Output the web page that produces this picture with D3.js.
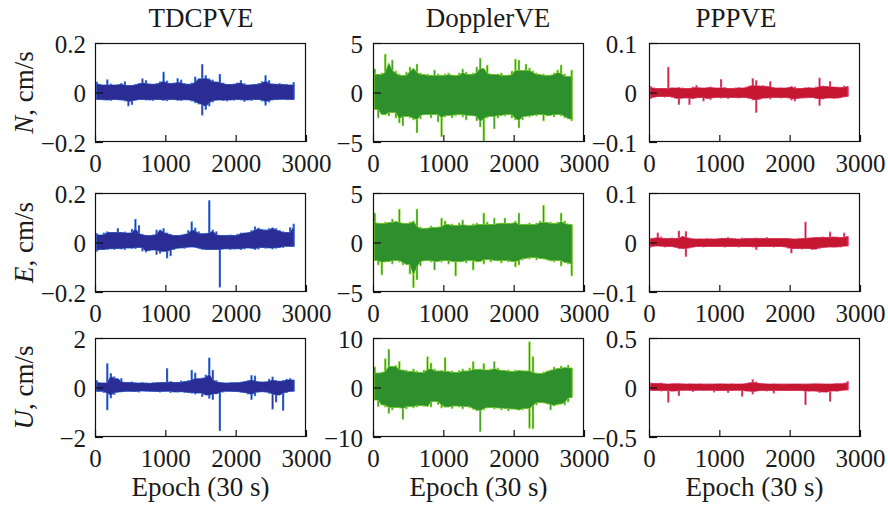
<!DOCTYPE html>
<html>
<head>
<meta charset="utf-8">
<script src="https://cdn.jsdelivr.net/npm/d3@7"></script>
<style>
  html, body { margin: 0; padding: 0; background: #fff; }
  svg { display: block; }
</style>
</head>
<body>
<svg id="chart" width="888" height="505"></svg>
<script>
// ---------------- DATA ----------------
const colTitles = ["TDCPVE", "DopplerVE", "PPPVE"];
const rowLabels = ["N", "E", "U"];
const xTicks = [0, 1000, 2000, 3000];
const xLabel = "Epoch (30 s)";
// symmetric y limits per row, per column
const nLimits = [0.2, 5, 0.1];
const eLimits = [0.2, 5, 0.1];
const uLimits = [2, 10, 0.5];
// y tick labels (bottom, middle, top) per row, per column
const nTickLabels = [["−0.2", "0", "0.2"], ["−5", "0", "5"], ["−0.1", "0", "0.1"]];
const eTickLabels = [["−0.2", "0", "0.2"], ["−5", "0", "5"], ["−0.1", "0", "0.1"]];
const uTickLabels = [["−2", "0", "2"], ["−10", "0", "10"], ["−0.5", "0", "0.5"]];

// start epoch of each 50-epoch bin
const binEpochs = [0,50,100,150,200,250,300,350,400,450,500,550,600,650,700,750,800,850,900,950,
  1000,1050,1100,1150,1200,1250,1300,1350,1400,1450,1500,1550,1600,1650,1700,1750,1800,1850,1900,1950,
  2000,2050,2100,2150,2200,2250,2300,2350,2400,2450,2500,2550,2600,2650,2700,2750,2800];
const binWidth = 50;

// per-bin max / min of each velocity-error series (cm/s)
const nTdcpHi = [0.044,0.035,0.030,0.053,0.036,0.030,0.033,0.038,0.045,0.028,0.030,0.034,0.038,0.057,0.050,0.036,0.033,0.038,0.045,0.084,0.048,0.036,0.040,0.058,0.052,0.038,0.033,0.040,0.064,0.055,0.115,0.070,0.057,0.052,0.042,0.075,0.040,0.034,0.032,0.036,0.040,0.050,0.038,0.030,0.034,0.032,0.038,0.045,0.070,0.050,0.036,0.033,0.038,0.032,0.035,0.030,0.042];
const nTdcpLo = [-0.030,-0.028,-0.032,-0.030,-0.034,-0.028,-0.031,-0.030,-0.036,-0.056,-0.050,-0.033,-0.030,-0.028,-0.032,-0.030,-0.034,-0.028,-0.030,-0.033,-0.035,-0.028,-0.030,-0.032,-0.034,-0.029,-0.031,-0.036,-0.043,-0.048,-0.093,-0.070,-0.056,-0.040,-0.032,-0.030,-0.034,-0.036,-0.030,-0.033,-0.028,-0.032,-0.038,-0.030,-0.034,-0.028,-0.030,-0.036,-0.053,-0.040,-0.032,-0.028,-0.030,-0.027,-0.031,-0.030,-0.028];
const nDopHi = [2.4,1.8,2.0,3.9,2.9,3.3,2.2,1.9,1.7,2.1,2.6,2.4,2.9,2.0,1.8,1.9,1.7,2.3,1.9,1.7,1.9,2.0,1.8,1.7,2.0,2.4,2.1,1.8,2.0,2.6,3.5,2.4,2.8,1.9,1.8,1.9,2.0,1.7,1.8,2.2,3.4,3.3,2.2,2.9,2.5,2.2,2.0,1.8,1.9,1.7,1.8,2.0,2.3,2.8,1.9,1.6,2.3];
const nDopLo = [-1.7,-2.6,-2.2,-2.3,-2.4,-2.0,-2.6,-3.1,-3.4,-2.4,-2.6,-2.8,-4.1,-2.7,-2.3,-2.2,-2.6,-2.2,-3.0,-4.5,-2.5,-2.3,-2.6,-2.4,-2.2,-2.5,-2.8,-2.3,-2.4,-2.9,-3.5,-4.9,-2.6,-2.4,-3.7,-2.6,-2.3,-2.4,-2.2,-2.6,-2.8,-3.6,-2.8,-2.4,-2.5,-2.3,-2.4,-2.2,-2.9,-2.4,-2.3,-2.5,-2.2,-2.4,-2.6,-2.7,-2.9];
const nPppHi = [0.013,0.010,0.008,0.009,0.008,0.052,0.010,0.009,0.011,0.010,0.008,0.009,0.012,0.015,0.010,0.009,0.011,0.012,0.010,0.009,0.027,0.011,0.009,0.008,0.010,0.011,0.009,0.012,0.014,0.029,0.025,0.013,0.015,0.012,0.023,0.011,0.009,0.010,0.009,0.011,0.013,0.012,0.008,0.009,0.010,0.011,0.009,0.012,0.030,0.014,0.012,0.023,0.011,0.012,0.010,0.014,0.012];
const nPppLo = [-0.013,-0.010,-0.009,-0.008,-0.010,-0.008,-0.011,-0.012,-0.025,-0.012,-0.011,-0.025,-0.013,-0.012,-0.010,-0.018,-0.012,-0.015,-0.011,-0.010,-0.012,-0.010,-0.013,-0.011,-0.010,-0.012,-0.010,-0.011,-0.013,-0.016,-0.041,-0.015,-0.012,-0.011,-0.014,-0.010,-0.011,-0.012,-0.010,-0.012,-0.016,-0.018,-0.013,-0.011,-0.012,-0.010,-0.011,-0.013,-0.027,-0.014,-0.012,-0.011,-0.013,-0.012,-0.011,-0.010,-0.008];

const eTdcpHi = [0.038,0.030,0.040,0.045,0.042,0.040,0.058,0.040,0.044,0.038,0.055,0.095,0.070,0.035,0.030,0.028,0.032,0.052,0.050,0.058,0.040,0.035,0.030,0.028,0.032,0.035,0.050,0.085,0.060,0.045,0.035,0.038,0.171,0.052,0.045,0.030,0.028,0.030,0.032,0.028,0.035,0.040,0.038,0.042,0.050,0.065,0.060,0.055,0.050,0.058,0.060,0.058,0.050,0.045,0.040,0.062,0.076];
const eTdcpLo = [-0.037,-0.030,-0.028,-0.030,-0.025,-0.030,-0.024,-0.028,-0.030,-0.022,-0.025,-0.026,-0.020,-0.036,-0.040,-0.035,-0.030,-0.050,-0.045,-0.035,-0.064,-0.055,-0.030,-0.025,-0.022,-0.025,-0.020,-0.018,-0.022,-0.025,-0.030,-0.028,-0.030,-0.028,-0.030,-0.182,-0.028,-0.025,-0.030,-0.028,-0.025,-0.030,-0.028,-0.022,-0.025,-0.030,-0.028,-0.020,-0.025,-0.022,-0.028,-0.025,-0.020,-0.022,-0.015,-0.018,-0.016];
const eDopHi = [3.0,2.0,1.9,2.1,2.0,2.4,2.1,3.4,2.0,1.9,2.1,2.2,3.4,1.6,1.4,1.5,1.7,1.5,1.6,2.5,2.2,1.8,1.9,1.7,2.0,2.3,1.8,1.7,1.9,2.0,1.8,3.0,2.1,1.8,2.5,1.9,2.0,2.5,1.9,2.0,2.2,3.0,1.8,1.9,2.0,1.8,2.0,2.2,3.8,2.0,2.1,1.9,2.1,3.0,2.2,1.9,1.8];
const eDopLo = [-1.8,-2.3,-3.3,-2.0,-1.9,-2.2,-1.8,-2.0,-2.3,-2.2,-3.2,-4.6,-3.8,-2.4,-1.9,-1.8,-2.0,-2.8,-1.9,-2.0,-1.8,-2.2,-1.9,-3.4,-2.0,-1.9,-2.1,-1.8,-2.8,-2.0,-1.9,-2.2,-1.7,-2.0,-1.8,-1.9,-2.1,-1.8,-2.0,-1.9,-2.5,-2.3,-1.8,-1.6,-1.7,-1.5,-1.8,-1.6,-1.7,-1.8,-1.9,-2.0,-1.8,-2.4,-2.0,-2.2,-3.4];
const ePppHi = [0.008,0.010,0.020,0.012,0.008,0.009,0.010,0.008,0.024,0.012,0.023,0.010,0.008,0.007,0.008,0.007,0.009,0.008,0.007,0.008,0.009,0.008,0.011,0.008,0.009,0.007,0.010,0.008,0.009,0.008,0.010,0.008,0.009,0.011,0.008,0.009,0.008,0.009,0.008,0.009,0.008,0.007,0.009,0.008,0.042,0.009,0.011,0.010,0.011,0.012,0.010,0.022,0.011,0.012,0.010,0.020,0.012];
const ePppLo = [-0.010,-0.008,-0.007,-0.009,-0.010,-0.008,-0.009,-0.011,-0.013,-0.012,-0.029,-0.012,-0.010,-0.009,-0.008,-0.010,-0.008,-0.009,-0.008,-0.009,-0.008,-0.010,-0.008,-0.009,-0.008,-0.010,-0.008,-0.009,-0.008,-0.010,-0.015,-0.009,-0.008,-0.009,-0.008,-0.010,-0.009,-0.008,-0.010,-0.012,-0.022,-0.012,-0.013,-0.014,-0.012,-0.013,-0.015,-0.014,-0.013,-0.010,-0.011,-0.009,-0.010,-0.009,-0.010,-0.008,-0.007];

const uTdcpHi = [0.30,0.20,0.18,0.98,0.58,0.45,0.35,0.38,0.22,0.20,0.24,0.20,0.18,0.22,0.20,0.17,0.21,0.19,0.22,0.20,0.78,0.25,0.22,0.20,0.28,0.24,0.30,0.71,0.60,0.35,0.40,0.52,1.21,0.71,0.30,0.22,0.20,0.18,0.22,0.19,0.20,0.23,0.25,0.30,0.50,0.48,0.25,0.22,0.24,0.35,0.44,0.30,0.25,0.30,0.35,0.38,0.30];
const uTdcpLo = [-0.17,-0.15,-0.22,-0.92,-0.44,-0.30,-0.20,-0.18,-0.17,-0.15,-0.18,-0.16,-0.20,-0.14,-0.17,-0.15,-0.18,-0.16,-0.20,-0.17,-0.15,-0.22,-0.18,-0.20,-0.17,-0.22,-0.20,-0.25,-0.28,-0.22,-0.38,-0.30,-0.45,-0.50,-0.25,-1.76,-0.20,-0.15,-0.17,-0.16,-0.18,-0.20,-0.22,-0.28,-0.50,-0.35,-0.20,-0.17,-0.20,-0.25,-0.89,-0.60,-0.30,-0.94,-0.22,-0.18,-0.15];
const uDopHi = [4.2,2.9,3.2,5.9,7.8,4.2,4.5,5.3,3.5,3.6,3.2,3.8,3.4,3.0,3.6,6.3,5.0,3.8,3.3,3.5,6.1,3.2,3.4,3.0,3.5,3.8,3.3,4.0,5.3,3.6,3.8,4.9,3.5,3.8,5.3,4.0,3.5,3.4,3.6,3.2,3.6,3.4,3.5,3.3,9.3,6.3,3.0,2.8,3.2,3.4,3.6,4.2,3.8,4.4,4.0,4.6,3.9];
const uDopLo = [-2.5,-3.9,-3.5,-4.0,-5.3,-4.6,-4.0,-4.2,-6.5,-4.4,-3.8,-4.2,-4.0,-3.6,-3.9,-3.8,-4.0,-2.8,-3.5,-4.2,-4.0,-3.9,-4.3,-3.7,-4.0,-4.4,-3.8,-4.2,-4.5,-4.8,-9.0,-4.6,-4.2,-4.0,-4.4,-4.1,-4.6,-4.2,-4.8,-4.3,-4.5,-4.6,-4.6,-4.2,-8.3,-8.4,-3.6,-3.0,-3.2,-3.4,-4.6,-3.8,-3.6,-3.3,-3.6,-3.0,-2.0];
const uPppHi = [0.050,0.040,0.045,0.050,0.040,0.035,0.045,0.040,0.038,0.042,0.035,0.040,0.038,0.035,0.040,0.036,0.034,0.038,0.035,0.040,0.036,0.038,0.035,0.040,0.036,0.035,0.038,0.045,0.050,0.083,0.060,0.045,0.040,0.038,0.035,0.040,0.036,0.035,0.034,0.036,0.035,0.038,0.036,0.035,0.034,0.036,0.038,0.040,0.036,0.038,0.035,0.036,0.040,0.042,0.038,0.050,0.065];
const uPppLo = [-0.030,-0.035,-0.030,-0.040,-0.030,-0.154,-0.040,-0.035,-0.086,-0.030,-0.028,-0.030,-0.045,-0.030,-0.028,-0.032,-0.030,-0.028,-0.050,-0.030,-0.032,-0.030,-0.055,-0.032,-0.030,-0.028,-0.093,-0.035,-0.040,-0.070,-0.040,-0.035,-0.030,-0.040,-0.030,-0.060,-0.030,-0.032,-0.030,-0.035,-0.030,-0.032,-0.030,-0.035,-0.178,-0.040,-0.035,-0.040,-0.055,-0.045,-0.050,-0.144,-0.035,-0.040,-0.035,-0.030,-0.025];

// ---------------- LAYOUT / STYLE ----------------
const colLeft = [95, 373, 649];
const rowTop = [43, 193, 338];
const plotW = 211, plotH = 99;
const yLabelGap = [9, 10, 12];
const titleX = [201, 488, 736];
const serif = "'Liberation Serif', 'Times New Roman', serif";
const palette = [
  { light: "#3f78d8", dark: "#2b2c94" },
  { light: "#7fd12e", dark: "#2d902d" },
  { light: "#e45a8a", dark: "#c5172f" }
];

const grid = [
  { label: rowLabels[0], limits: nLimits, ticks: nTickLabels, series: [[nTdcpHi, nTdcpLo], [nDopHi, nDopLo], [nPppHi, nPppLo]] },
  { label: rowLabels[1], limits: eLimits, ticks: eTickLabels, series: [[eTdcpHi, eTdcpLo], [eDopHi, eDopLo], [ePppHi, ePppLo]] },
  { label: rowLabels[2], limits: uLimits, ticks: uTickLabels, series: [[uTdcpHi, uTdcpLo], [uDopHi, uDopLo], [uPppHi, uPppLo]] }
];

const svg = d3.select("#chart");
svg.append("rect").attr("width", 888).attr("height", 505).attr("fill", "#fff");

grid.forEach((row, r) => {
  row.series.forEach((pair, c) => {
    const [hi, lo] = pair;
    const lim = row.limits[c];
    const x = d3.scaleLinear().domain([0, 3000]).range([colLeft[c], colLeft[c] + plotW]);
    const y = d3.scaleLinear().domain([-lim, lim]).range([rowTop[r] + plotH, rowTop[r]]);
    const g = svg.append("g");

    const n = Math.min(binEpochs.length, hi.length, lo.length);
    const bins = d3.range(n).map(i => ({ e: binEpochs[i], hi: hi[i], lo: lo[i] }));
    const mid = b => b.e + binWidth / 2;

    // per-bin extent lines (light fringe, then darker core)
    g.selectAll(null).data(bins).join("line")
      .attr("x1", b => x(mid(b))).attr("x2", b => x(mid(b)))
      .attr("y1", b => y(b.hi)).attr("y2", b => y(b.lo))
      .attr("stroke", palette[c].light).attr("stroke-width", 2.2);
    g.selectAll(null).data(bins).join("line")
      .attr("x1", b => x(mid(b))).attr("x2", b => x(mid(b)))
      .attr("y1", b => y(b.hi) + 1).attr("y2", b => y(b.lo) - 1)
      .attr("stroke", palette[c].dark).attr("stroke-width", 0.9);

    // dense body: the part shared with neighbouring bins
    const core = bins.map((b, i) => {
      const nb = bins.slice(Math.max(0, i - 1), Math.min(n, i + 2));
      return { x: mid(b), top: d3.min(nb, d => d.hi), bot: d3.max(nb, d => d.lo) };
    });
    const bodyArea = d3.area().x(d => x(d.x)).y0(d => y(d.bot)).y1(d => y(d.top));
    g.append("path").attr("d", bodyArea(core)).attr("fill", palette[c].light)
      .attr("stroke", palette[c].light).attr("stroke-width", 1.2);
    g.append("path").attr("d", bodyArea(core)).attr("fill", palette[c].dark);

    // frame
    g.append("rect").attr("x", colLeft[c] + 0.5).attr("y", rowTop[r] + 0.5)
      .attr("width", plotW - 1).attr("height", plotH - 1)
      .attr("fill", "none").attr("stroke", "#111").attr("stroke-width", 1.2);

    // x axis
    const xa = g.append("g").attr("transform", `translate(0,${rowTop[r] + plotH})`)
      .call(d3.axisBottom(x).tickValues(xTicks).tickFormat(d3.format("d")).tickSizeInner(-7).tickSizeOuter(0).tickPadding(12));
    xa.select(".domain").remove();
    xa.selectAll("line").attr("stroke", "#111").attr("stroke-width", 1.2);
    xa.selectAll("text").attr("font-family", serif).attr("font-size", 25).attr("fill", "#1a1a1a");

    // y axis
    const ya = g.append("g").attr("transform", `translate(${colLeft[c]},0)`)
      .call(d3.axisLeft(y).tickValues([-lim, 0, lim]).tickSizeInner(-8).tickSizeOuter(0).tickPadding(yLabelGap[c])
        .tickFormat((d, i) => row.ticks[c][i]));
    ya.select(".domain").remove();
    ya.selectAll("line").attr("stroke", "#111").attr("stroke-width", 1.2);
    ya.selectAll("text").attr("font-family", serif).attr("font-size", 25).attr("fill", "#1a1a1a").attr("dy", "0.36em");
  });

  // row y label
  const cy = rowTop[r] + plotH / 2;
  const t = svg.append("text").attr("transform", `translate(33,${cy}) rotate(-90)`)
    .attr("text-anchor", "middle").attr("font-family", serif).attr("font-size", 27).attr("fill", "#1a1a1a");
  t.append("tspan").attr("font-style", "italic").text(row.label);
  t.append("tspan").text(", cm/s");
});

// column titles and x labels
colTitles.forEach((title, c) => {
  svg.append("text").attr("x", titleX[c]).attr("y", 27).attr("text-anchor", "middle")
    .attr("font-family", serif).attr("font-size", 27).attr("fill", "#1a1a1a").text(title);
  svg.append("text").attr("x", colLeft[c] + plotW / 2).attr("y", 496).attr("text-anchor", "middle")
    .attr("font-family", serif).attr("font-size", 27).attr("fill", "#1a1a1a").text(xLabel);
});
</script>
</body>
</html>
